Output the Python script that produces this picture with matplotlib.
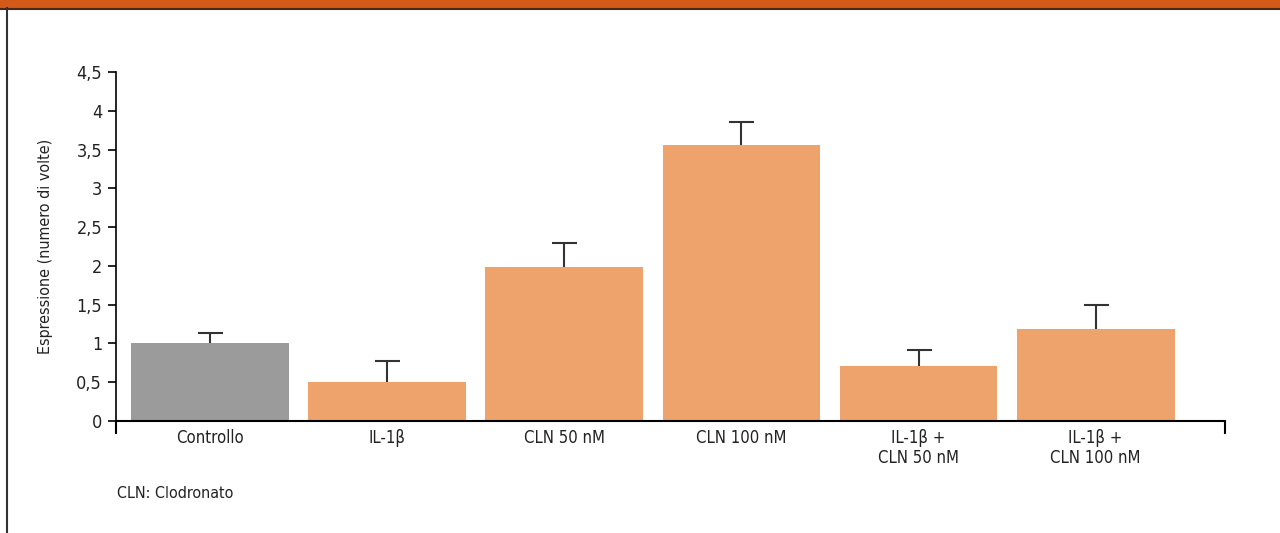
import matplotlib.pyplot as plt
from matplotlib.patches import Rectangle
from matplotlib.lines import Line2D

plt.rcParams['font.family'] = ['DejaVu Sans']
plt.rcParams['font.stretch'] = 'condensed'

# expression values with upper error bar ends
groups = ["Controllo", "IL-1β", "CLN 50 nM", "CLN 100 nM", "IL-1β +\nCLN 50 nM", "IL-1β +\nCLN 100 nM"]
means = [1.0, 0.5, 1.98, 3.56, 0.71, 1.18]
upper = [1.13, 0.78, 2.3, 3.85, 0.92, 1.5]
colors = ["#9b9b9b", "#eea36c", "#eea36c", "#eea36c", "#eea36c", "#eea36c"]
yticks = [0, 0.5, 1, 1.5, 2, 2.5, 3, 3.5, 4, 4.5]
ylabels = ["0", "0,5", "1", "1,5", "2", "2,5", "3", "3,5", "4", "4,5"]

fig = plt.figure(figsize=(12.8, 5.33), dpi=100)

# frame: orange band on top, thin border on the left
fig.add_artist(Rectangle((0, 1 - 8/533), 1, 8/533, transform=fig.transFigure,
                         facecolor="#d35a18", edgecolor="none"))
fig.add_artist(Line2D([0, 1], [1 - 8.5/533, 1 - 8.5/533], transform=fig.transFigure,
                      color="#4a2a15", lw=1.5))
fig.add_artist(Line2D([7/1280, 7/1280], [0, 1 - 8/533], transform=fig.transFigure,
                      color="#333333", lw=1.5))

ax = fig.add_axes([116/1280, 112/533, 1109/1280, 349/533])
x = list(range(len(groups)))
ax.bar(x, means, width=0.89, color=colors, zorder=2)
# upper-only error bars: stem from bar top plus a cap at the end
ax.vlines(x, means, upper, color="#333333", lw=1.5, zorder=1)
ax.plot(x, upper, ls="none", marker="_", markersize=18, mew=1.5, color="#333333", zorder=1)

ax.set_xlim(-0.53, 5.73)
ax.set_ylim(0, 4.5)
ax.set_yticks(yticks)
ax.set_yticklabels(ylabels, fontsize=13)
ax.set_xticks(x)
ax.set_xticklabels(groups, fontsize=12, linespacing=1.15, color="#222222")
ax.tick_params(axis="x", length=0, pad=6)
ax.tick_params(axis="y", length=6, width=1.2, pad=4, labelcolor="#222222")
ax.set_xticks([-0.53, 5.73], minor=True)
ax.tick_params(axis="x", which="minor", length=9, width=1.5, direction="out")

for s in ["top", "right"]:
    ax.spines[s].set_visible(False)
ax.spines["left"].set_linewidth(1.2)
ax.spines["bottom"].set_linewidth(1.5)

ax.set_ylabel("Espressione (numero di volte)", fontsize=11.5, labelpad=17, color="#222222")

fig.text(117/1280, 1 - 494/533, "CLN: Clodronato", fontsize=11.5, va="center", ha="left",
         color="#222222")

fig.savefig("out.png", dpi=100)
